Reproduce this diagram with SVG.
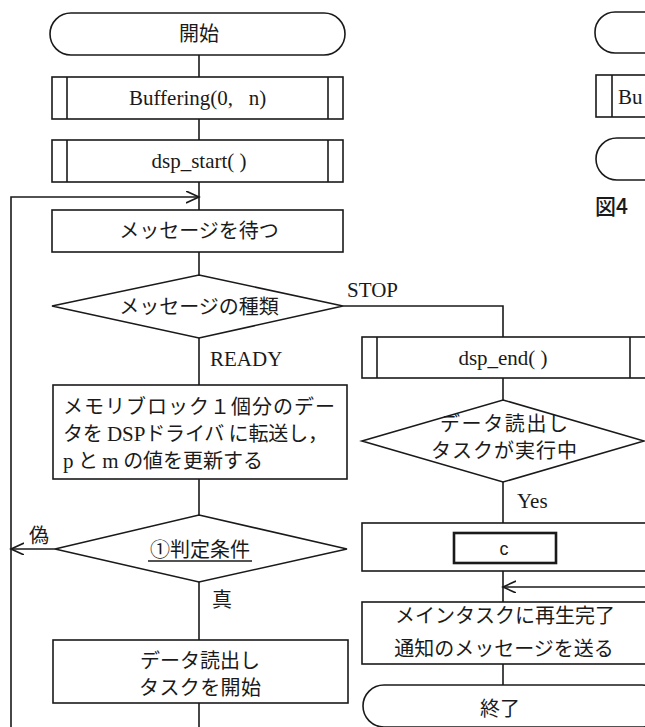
<svg xmlns="http://www.w3.org/2000/svg" width="645" height="727" viewBox="0 0 645 727">
<defs>
<marker id="arr" markerUnits="userSpaceOnUse" markerWidth="16" markerHeight="14" refX="13" refY="6" orient="auto">
<path d="M0,0 L13,6 L0,12" fill="none" stroke="#1a1a1a" stroke-width="1.6"/>
</marker>
<style>
.s{fill:#fff;stroke:#1a1a1a;stroke-width:1.6}
.l{fill:none;stroke:#1a1a1a;stroke-width:1.6}
.j{font-family:"Noto Sans CJK JP","Noto Sans",sans-serif;font-size:20px;fill:#1a1a1a}
.r{font-family:"Liberation Serif","Noto Sans CJK JP",serif;font-size:21px;fill:#1a1a1a}
.m{text-anchor:middle}
</style>
</defs>
<rect width="645" height="727" fill="#fff"/>
<g id="connectors">
<line class="l" x1="199" y1="55" x2="199" y2="77"/>
<line class="l" x1="199" y1="119" x2="199" y2="140"/>
<line class="l" x1="199" y1="182" x2="199" y2="210"/>
<polyline class="l" points="11,727 11,197 199,197" marker-end="url(#arr)"/>
<line class="l" x1="199" y1="252" x2="199" y2="275"/>
<polyline class="l" points="343,306 503,306 503,337"/>
<line class="l" x1="199" y1="338" x2="199" y2="385"/>
<line class="l" x1="199" y1="479" x2="199" y2="515"/>
<line class="l" x1="55" y1="549" x2="11" y2="549" marker-end="url(#arr)"/>
<line class="l" x1="199" y1="582" x2="199" y2="640"/>
<line class="l" x1="199" y1="703" x2="199" y2="727"/>
<line class="l" x1="503" y1="378" x2="503" y2="400"/>
<line class="l" x1="503" y1="482" x2="503" y2="523"/>
<line class="l" x1="503" y1="571" x2="503" y2="602"/>
<line class="l" x1="645" y1="587" x2="503" y2="587" marker-end="url(#arr)"/>
<line class="l" x1="503" y1="664" x2="503" y2="685"/>
<text class="r" x="347" y="297" font-size="22">STOP</text>
<text class="r" x="210" y="366" font-size="22">READY</text>
<text class="j" x="29" y="543" font-size="17">偽</text>
<text class="j" x="212" y="607" font-size="18">真</text>
<text class="r" x="517" y="508">Yes</text>
</g>
<g id="start">
<rect class="s" x="50" y="13" width="295" height="42" rx="21"/>
<text class="j m" x="199" y="41">開始</text>
</g>
<g id="buffering">
<rect class="s" x="52" y="77" width="291" height="42"/>
<line class="l" x1="67" y1="77" x2="67" y2="119"/>
<line class="l" x1="328" y1="77" x2="328" y2="119"/>
<text class="r" x="129" y="105">Buffering(0,&#160;&#160;&#160;n)</text>
</g>
<g id="dsp_start">
<rect class="s" x="52" y="140" width="291" height="42"/>
<line class="l" x1="67" y1="140" x2="67" y2="182"/>
<line class="l" x1="328" y1="140" x2="328" y2="182"/>
<text class="r m" x="199" y="168">dsp_start( )</text>
</g>
<g id="wait">
<rect class="s" x="52" y="210" width="291" height="42"/>
<text class="j m" x="199" y="238">メッセージを待つ</text>
</g>
<g id="msgtype">
<polygon class="s" points="199,275 343,306 199,338 52,306"/>
<text class="j m" x="199" y="314">メッセージの種類</text>
</g>
<g id="transfer">
<rect class="s" x="53" y="385" width="294" height="94"/>
<text class="j" x="63" y="414" font-size="18" textLength="272">メモリブロック１個分のデー</text>
<text class="j" x="63" y="441" font-size="18" textLength="265">タを <tspan class="r" font-size="19">DSP</tspan>ドライバ に転送し，</text>
<text class="j" x="63" y="468" font-size="18" textLength="200"><tspan class="r" font-size="19">p</tspan> と <tspan class="r" font-size="19">m</tspan> の値を更新する</text>
</g>
<g id="cond">
<polygon class="s" points="199,515 347,549 199,582 55,549"/>
<text class="j m" x="200" y="557">①判定条件</text>
<line class="l" x1="148" y1="561" x2="252" y2="561" stroke-width="1.2"/>
</g>
<g id="readtask">
<rect class="s" x="53" y="640" width="295" height="63"/>
<text class="j m" x="200" y="668" font-size="18" textLength="120">データ読出し</text>
<text class="j m" x="200" y="695" font-size="18" textLength="122">タスクを開始</text>
</g>
<g id="dsp_end">
<rect class="s" x="362" y="337" width="290" height="41"/>
<line class="l" x1="377" y1="337" x2="377" y2="378"/>
<line class="l" x1="630" y1="337" x2="630" y2="378"/>
<text class="r m" x="503" y="365">dsp_end( )</text>
</g>
<g id="running">
<polygon class="s" points="503,400 644,441 503,482 362,441"/>
<text class="j m" x="504" y="431" font-size="16.5" textLength="128">データ読出し</text>
<text class="j m" x="504" y="458" font-size="16.5" textLength="146">タスクが実行中</text>
</g>
<g id="cbox">
<rect class="s" x="362" y="523" width="290" height="48"/>
<rect x="454" y="533" width="102" height="30" fill="#fff" stroke="#1a1a1a" stroke-width="2.6"/>
<text class="m" x="504" y="555" font-family="Liberation Sans, sans-serif" font-size="18" fill="#1a1a1a">c</text>
</g>
<g id="notify">
<rect class="s" x="362" y="602" width="290" height="62"/>
<text class="j m" x="505" y="623">メインタスクに再生完了</text>
<text class="j m" x="504" y="656">通知のメッセージを送る</text>
</g>
<g id="end">
<rect class="s" x="363" y="685" width="300" height="42" rx="21"/>
<text class="j m" x="500" y="716">終了</text>
</g>
<g id="legend-terminal">
<rect class="s" x="595" y="12" width="200" height="41" rx="20"/>
</g>
<g id="legend-process">
<rect class="s" x="596" y="75" width="100" height="42"/>
<line class="l" x1="612" y1="75" x2="612" y2="117"/>
<text class="r" x="618" y="104">Bu</text>
</g>
<g id="legend-terminal2">
<rect class="s" x="596" y="138" width="200" height="42" rx="21"/>
</g>
<text x="595" y="214" font-family="Noto Sans CJK JP, sans-serif" font-size="21" font-weight="500" fill="#1a1a1a">図4</text>
</svg>
